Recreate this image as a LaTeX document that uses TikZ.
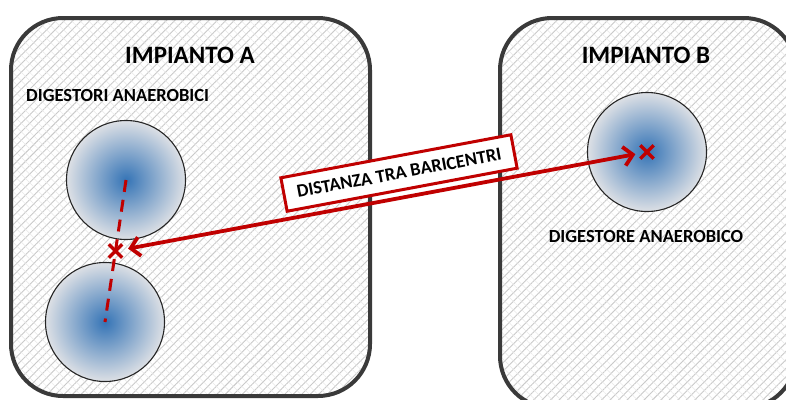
\documentclass[tikz,border=0pt]{standalone}
\usepackage{fontspec}
\setmainfont{Carlito}
\usetikzlibrary{arrows.meta,calc,positioning,patterns.meta,shapes.misc}

\definecolor{redline}{HTML}{C00000}
\definecolor{bordergray}{HTML}{3A3A3A}
\definecolor{digblue}{HTML}{3574B6}
\definecolor{digedge}{HTML}{DDE0E5}

\tikzset{
  plant/.style={draw=bordergray, line width=4pt, rounded corners=52pt,
    preaction={fill=white},
    preaction={pattern={Lines[angle=45,distance=6pt,line width=.9pt]}, pattern color=gray!42},
    preaction={pattern={Lines[angle=-45,distance=6pt,line width=.5pt]}, pattern color=gray!18}},
  digester/.style={circle, draw=black!85, line width=1.1pt, minimum size=119pt,
    inner color=digblue, outer color=digedge},
  crossmark/.style={cross out, draw=redline, line width=3.4pt, minimum size=10pt, inner sep=0pt},
  centerline/.style={draw=redline, line width=3pt, dash pattern=on 12pt off 8pt},
  distline/.style={draw=redline, line width=3.8pt,
    {Straight Barb[length=9pt,width=19pt]}-{Straight Barb[length=9pt,width=19pt]},
    shorten <=6pt, shorten >=5pt},
  distlabel/.style={draw=redline, line width=3pt, fill=white, minimum width=234pt,
    minimum height=34pt, inner sep=0pt, font=\bfseries\fontsize{18.5}{21}\selectfont},
  title/.style={font=\bfseries\fontsize{25}{28}\selectfont, inner sep=0pt},
  sublabel/.style={font=\bfseries\fontsize{18.5}{21}\selectfont, inner sep=0pt}
}

\begin{document}
\begin{tikzpicture}[x=1pt,y=-1pt]
        \useasboundingbox (0,0) rectangle (786,399);

        % impianti
        \path[plant] (11,18) rectangle (370,396);
        \path[plant] (500,18) rectangle (796,408);
        \node[title] (titleA) at (190,55) {IMPIANTO A};
        \node[title] (titleB) at (646,55) {IMPIANTO B};

        % digestori
        \node[digester] (digA1) at (126,180) {};
        \node[digester] (digA2) at (105,322) {};
        \node[digester] (digB) at (647,152) {};
        \node[sublabel, anchor=west] (subA) at (26,95) {DIGESTORI ANAEROBICI};
        \node[sublabel] (subB) at (646,236) {DIGESTORE ANAEROBICO};

        % baricentri
        \draw[centerline] (digA1.center) -- (digA2.center);
        \node[crossmark] (xA) at ($(digA1.center)!0.5!(digA2.center)$) {};
        \node[crossmark] (xB) at (digB.center) {};

        % distanza
        \draw[distline] (xA) -- (xB);
        \node[distlabel, rotate=10.6] (dist) at (399,173) {DISTANZA TRA BARICENTRI};

      \end{tikzpicture}
\end{document}
